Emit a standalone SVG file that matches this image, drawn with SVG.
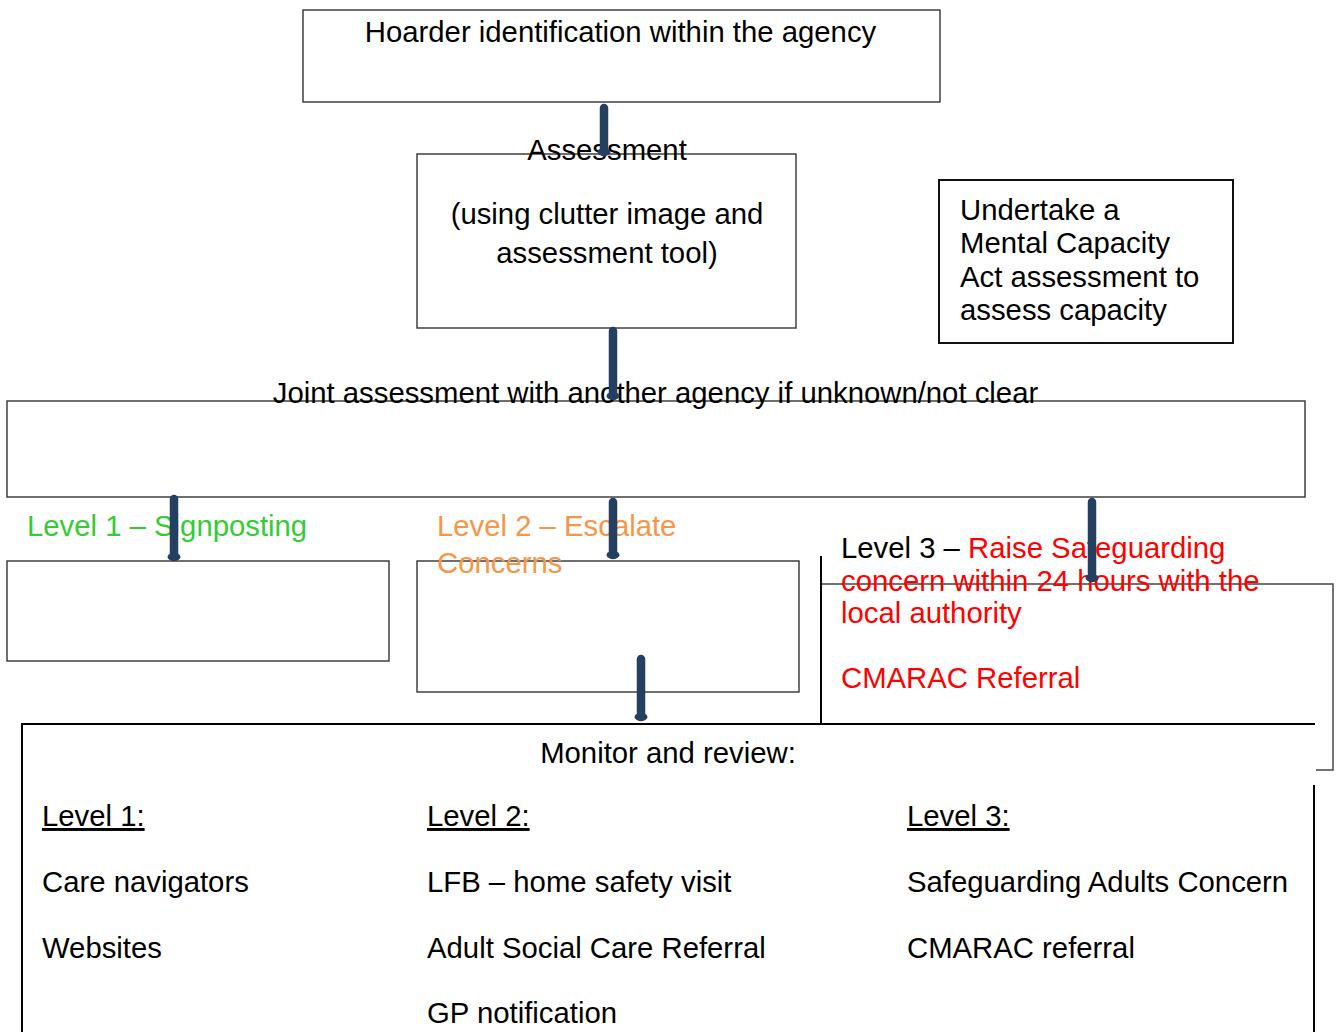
<svg xmlns="http://www.w3.org/2000/svg" width="1336" height="1032" viewBox="0 0 1336 1032">
<defs>
<style>
text{font-family:"Liberation Sans",Arial,sans-serif;font-size:29.3px;fill:#000}
.box{fill:#fff;stroke:#333;stroke-width:1.4}
.mid{text-anchor:middle}
.red{fill:#ff0000}
.green{fill:#33cc33}
.orange{fill:#f79646}
.conn{stroke:#243f60;stroke-width:8.5;stroke-linecap:round;fill:none;marker-end:url(#oval)}
.line{stroke:#000;stroke-width:2;fill:none}
</style>
<marker id="oval" markerUnits="userSpaceOnUse" viewBox="-8 -8 16 16" markerWidth="16" markerHeight="16" refX="0" refY="0" orient="auto">
<ellipse cx="0" cy="0" rx="4" ry="6.5" fill="#243f60"/>
</marker>
</defs>
<rect width="1336" height="1032" fill="#fff"/>

<g id="hoarder">
<rect class="box" x="303" y="10" width="637" height="92"/>
<text class="mid" x="620.5" y="42">Hoarder identification within the agency</text>
</g>

<g id="assessment">
<rect class="box" x="417" y="154" width="379" height="174"/>
<text class="mid" x="607" y="160">Assessment</text>
<text class="mid" x="607" y="224">(using clutter image and</text>
<text class="mid" x="607" y="263">assessment tool)</text>
</g>

<g id="mental-capacity">
<rect x="939" y="180" width="294" height="163" fill="#fff" stroke="#111" stroke-width="2"/>
<text x="960" y="220">Undertake a</text>
<text x="960" y="253">Mental Capacity</text>
<text x="960" y="287">Act assessment to</text>
<text x="960" y="320">assess capacity</text>
</g>

<g id="joint">
<rect class="box" x="7" y="401" width="1298" height="96"/>
<text class="mid" x="655.5" y="403">Joint assessment with another agency if unknown/not clear</text>
</g>

<g id="level1">
<rect class="box" x="7" y="561" width="382" height="100"/>
<text class="green" x="27" y="536">Level 1 – Signposting</text>
</g>

<g id="level2">
<rect class="box" x="417" y="561" width="382" height="131"/>
<text class="orange" x="437" y="536">Level 2 – Escalate</text>
<text class="orange" x="437" y="573">Concerns</text>
</g>

<g id="level3">
<polyline points="821,584 1333,584 1333,770 1316,770" fill="none" stroke="#444" stroke-width="1.5"/>
<line class="line" x1="821" y1="556" x2="821" y2="724"/>
<text x="841" y="558">Level 3 – <tspan class="red">Raise Safeguarding</tspan></text>
<text class="red" x="841" y="591">concern within 24 hours with the</text>
<text class="red" x="841" y="623">local authority</text>
<text class="red" x="841" y="688">CMARAC Referral</text>
</g>

<g id="monitor">
<polyline class="line" points="22,1034 22,724 1315,724"/>
<line class="line" x1="1314" y1="785" x2="1314" y2="1034"/>
<text class="mid" x="668" y="763">Monitor and review:</text>
<text x="42" y="826" text-decoration="underline">Level 1:</text>
<text x="42" y="892">Care navigators</text>
<text x="42" y="958">Websites</text>
<text x="427" y="826" text-decoration="underline">Level 2:</text>
<text x="427" y="892">LFB – home safety visit</text>
<text x="427" y="958">Adult Social Care Referral</text>
<text x="427" y="1023">GP notification</text>
<text x="907" y="826" text-decoration="underline">Level 3:</text>
<text x="907" y="892">Safeguarding Adults Concern</text>
<text x="907" y="958">CMARAC referral</text>
</g>

<g id="connectors">
<line class="conn" x1="604" y1="108" x2="604" y2="152"/>
<line class="conn" x1="613" y1="331" x2="613" y2="396"/>
<line class="conn" x1="174" y1="499" x2="174" y2="557"/>
<line class="conn" x1="613" y1="502" x2="613" y2="555"/>
<line class="conn" x1="1092" y1="502" x2="1092" y2="578"/>
<line class="conn" x1="641" y1="659" x2="641" y2="717"/>
</g>
</svg>
